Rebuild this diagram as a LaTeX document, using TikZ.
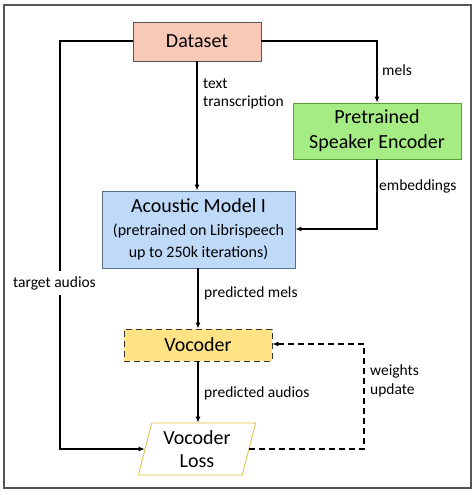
\documentclass[tikz,border=0pt]{standalone}
\usepackage{fontspec}
\setmainfont{Carlito}
\usetikzlibrary{arrows.meta,shapes.geometric}
\definecolor{dsfill}{HTML}{F9C9B7}
\definecolor{spfill}{HTML}{A6EC84}
\definecolor{spline}{HTML}{5E9E3C}
\definecolor{acfill}{HTML}{BFD9F9}
\definecolor{acline}{HTML}{5A6E85}
\definecolor{vofill}{HTML}{FFE385}
\definecolor{loline}{HTML}{D9C33F}
\definecolor{frame}{HTML}{555555}
\tikzset{
  blk/.style={rectangle, draw, line width=0.9pt, align=center, inner sep=0pt,
    font=\fontsize{20}{23}\selectfont},
  lbl/.style={font=\fontsize{15.5}{18.5}\selectfont, align=left, inner sep=1pt},
  conn/.style={line width=1.1pt, -{Latex[length=6pt,width=5pt]}},
  dconn/.style={conn, dash pattern=on 6pt off 4pt},
}
\begin{document}
\begin{tikzpicture}[x=1pt,y=-1pt]
\useasboundingbox (0,0) rectangle (474,495);
\draw[frame, line width=1.2pt] (4,5) rectangle (471,488);

\node[blk, draw=frame, fill=dsfill, minimum width=128pt, minimum height=39pt] (ds) at (197,41.5) {Dataset};
\node[blk, draw=spline, fill=spfill, minimum width=168pt, minimum height=56pt] (sp) at (377,131) {Pretrained\\[2pt]Speaker Encoder};
\node[blk, draw=acline, fill=acfill, minimum width=193pt, minimum height=77pt] (ac) at (198.5,229.5)
  {Acoustic Model I\\[0pt]{\fontsize{16}{20}\selectfont (pretrained on Librispeech}\\[-1pt]{\fontsize{16}{20}\selectfont up to 250k iterations)}};
\node[blk, draw=black!80, fill=vofill, dash pattern=on 6pt off 4pt, minimum width=148pt, minimum height=32pt] (vo) at (198,345) {Vocoder};
\node[blk, trapezium, trapezium left angle=75, trapezium right angle=105, trapezium stretches=true,
  draw=loline, line width=0.8pt, fill=white, minimum width=118pt, minimum height=52pt] (lo) at (197,449) {Vocoder\\[0pt]Loss};

\coordinate (ta1) at (60,41);
\coordinate (ta2) at (60,449);
\coordinate (me1) at (377,41);
\coordinate (em1) at (377,229);
\coordinate (wu1) at (364,449);
\coordinate (wu2) at (364,344);

\draw[conn] (ds.west |- ta1) -- (ta1) -- (ta2) -- (lo.west |- ta2);
\node[lbl, fill=white, inner sep=5pt] (talbl) at (54.5,283) {target audios};

\draw[conn] (ds.east |- me1) -- (me1) -- (sp.north);
\node[lbl, anchor=west] (melbl) at (381,70) {mels};

\draw[conn] (ds.south) -- (ds.south |- ac.north);
\node[lbl, anchor=north west] (txlbl) at (202,77) {text\\transcription};

\draw[conn] (sp.south) -- (em1) -- (ac.east |- em1);
\node[lbl, anchor=west] (emlbl) at (378,186) {embeddings};

\draw[conn] (ac.south -| vo.north) -- (vo.north);
\node[lbl, anchor=west] (pmlbl) at (203,293) {predicted mels};

\draw[conn] (vo.south) -- (vo.south |- lo.north);
\node[lbl, anchor=west] (palbl) at (203,393) {predicted audios};

\draw[dconn] (lo.east |- wu1) -- (wu1) -- (wu2) -- (vo.east |- wu2);
\node[lbl, anchor=west] (wulbl) at (369,381) {weights\\update};
\end{tikzpicture}
\end{document}
